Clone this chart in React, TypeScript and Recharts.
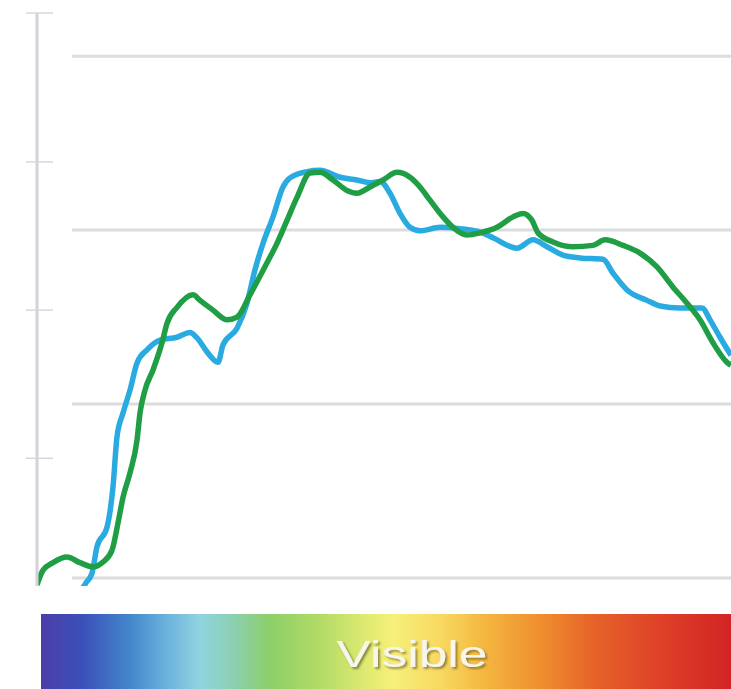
import React from 'react';
import { LineChart, Line, XAxis, YAxis, ReferenceLine } from 'recharts';

// wavelength (nm) and relative intensity (%)
const blueNm = [401.5, 404.5, 407.5, 410, 415, 418, 420, 423, 426.5, 430, 435, 441.5, 450, 456.5, 460, 465, 470.5, 473, 480, 485, 489, 493, 498, 503, 506.5, 515, 521.5, 531.5, 540, 546.5, 551.5, 556.5, 561.5, 566.5, 571.5, 581.5, 591.5, 601.5, 608, 620, 628, 635, 643, 651.5, 663, 668, 675, 685, 691.5, 701.5, 712.5, 716.5, 721.5, 727];
const blueVal = [-2.0, -0.7, 0.7, 4.5, 7.3, 13.1, 20.3, 23.7, 27.0, 30.9, 32.8, 34.2, 34.6, 35.3, 34.5, 32.5, 31.0, 33.5, 35.9, 39.5, 44.3, 48.1, 51.9, 56.2, 57.5, 58.4, 58.6, 57.6, 57.2, 56.8, 57.0, 55.3, 52.4, 50.4, 49.9, 50.4, 50.2, 49.7, 48.9, 47.4, 48.6, 47.6, 46.4, 46.0, 45.8, 43.8, 41.4, 39.9, 39.1, 38.8, 38.8, 37.1, 34.6, 32.0];

const greenNm = [380, 383, 388, 395, 401.5, 408, 413, 417.5, 420.5, 423, 426.5, 430, 431.5, 434, 438, 442.5, 445, 450, 458, 461.5, 468, 475, 480, 486.5, 495, 500, 505, 510, 516.5, 521.5, 528, 535, 540, 546.5, 553, 560, 566.5, 571.5, 576.5, 583, 588, 595, 601.5, 610, 618, 623, 627.5, 630.5, 638, 648, 658, 664, 673, 681.5, 690, 698, 705, 711.5, 718, 725, 727];
const greenVal = [-1.0, 1.1, 2.2, 3.0, 2.2, 1.6, 2.3, 4.0, 7.9, 11.6, 15.1, 19.8, 23.7, 27.0, 29.9, 33.8, 36.6, 38.9, 40.7, 39.9, 38.5, 37.1, 37.5, 40.7, 45.3, 48.1, 51.4, 54.7, 58.2, 58.3, 57.2, 55.7, 55.3, 56.2, 57.2, 58.3, 57.6, 56.2, 54.3, 51.9, 50.4, 49.3, 49.6, 50.4, 51.9, 52.4, 51.4, 49.6, 48.3, 47.6, 47.8, 48.6, 47.8, 46.7, 44.7, 41.8, 39.5, 37.1, 33.8, 31.0, 30.6];

const gridValues = [0, 25, 50, 75];
const axisTicks = [17.2, 38.5, 59.8, 81.2];
const gridStartNm = 397.5;
const xDomain = [380, 727];
const yDomain = [-1.15, 81.2];

const spectrumStops = [
  { offset: 0, color: '#4b3ea8' },
  { offset: 0.06, color: '#3b50b9' },
  { offset: 0.13, color: '#4488cc' },
  { offset: 0.18, color: '#6ab0dc' },
  { offset: 0.23, color: '#90d4e0' },
  { offset: 0.28, color: '#8ccfb0' },
  { offset: 0.33, color: '#8ccf6a' },
  { offset: 0.4, color: '#b0da66' },
  { offset: 0.48, color: '#e4ec72' },
  { offset: 0.51, color: '#f6f07a' },
  { offset: 0.58, color: '#f8d860' },
  { offset: 0.64, color: '#f4b840' },
  { offset: 0.72, color: '#f09030' },
  { offset: 0.8, color: '#e66428' },
  { offset: 0.9, color: '#de4028' },
  { offset: 1, color: '#d22424' },
];

const blueData = blueNm.map((nm, i) => ({ nm, value: blueVal[i] }));
const greenData = greenNm.map((nm, i) => ({ nm, value: greenVal[i] }));

function AxisTick(props: any) {
  const { x, y } = props;
  return <line x1={x - 11} x2={x + 16} y1={y} y2={y} stroke="#d6d6de" strokeWidth={1.5} />;
}

function SpectrumBar() {
  return (
    <svg width={731} height={89} style={{ position: 'absolute', left: 0, top: 600 }}>
      <defs>
        <linearGradient id="spectrum" x1="0" x2="1" y1="0" y2="0">
          {spectrumStops.map((s) => (
            <stop key={s.offset} offset={s.offset} stopColor={s.color} />
          ))}
        </linearGradient>
        <filter id="shadow" x="-10%" y="-30%" width="130%" height="170%">
          <feDropShadow dx="2" dy="2" stdDeviation="1.3" floodColor="#5a4620" floodOpacity="0.6" />
        </filter>
      </defs>
      <rect x={41} y={14} width={690} height={75} fill="url(#spectrum)" />
      <text
        x={412}
        y={67}
        textAnchor="middle"
        fontFamily="'Liberation Sans', Arial, sans-serif"
        fontSize={37}
        textLength={151}
        lengthAdjust="spacingAndGlyphs"
        fill="#f7f6ee"
        filter="url(#shadow)"
      >
        Visible
      </text>
    </svg>
  );
}

export default function App() {
  return (
    <div style={{ position: 'absolute', left: 0, top: 0, width: 731, height: 689, background: '#fff' }}>
      <LineChart width={731} height={600} margin={{ top: 13, right: 0, bottom: 14, left: 0 }}>
        <XAxis type="number" dataKey="nm" domain={xDomain} allowDataOverflow hide />
        <YAxis
          type="number"
          domain={yDomain}
          allowDataOverflow
          width={37}
          ticks={axisTicks}
          tick={<AxisTick />}
          tickLine={false}
          tickSize={0}
          tickMargin={0}
          axisLine={{ stroke: '#d2d2dc', strokeWidth: 3 }}
        />
        {gridValues.map((v) => (
          <ReferenceLine
            key={v}
            segment={[{ x: gridStartNm, y: v }, { x: xDomain[1], y: v }]}
            stroke="#dcdcdc"
            strokeWidth={3}
          />
        ))}
        <Line
          data={blueData}
          dataKey="value"
          type="monotone"
          stroke="#29abe2"
          strokeWidth={5.5}
          dot={false}
          isAnimationActive={false}
        />
        <Line
          data={greenData}
          dataKey="value"
          type="monotone"
          stroke="#1f9e45"
          strokeWidth={5.5}
          dot={false}
          isAnimationActive={false}
        />
      </LineChart>
      <SpectrumBar />
    </div>
  );
}
